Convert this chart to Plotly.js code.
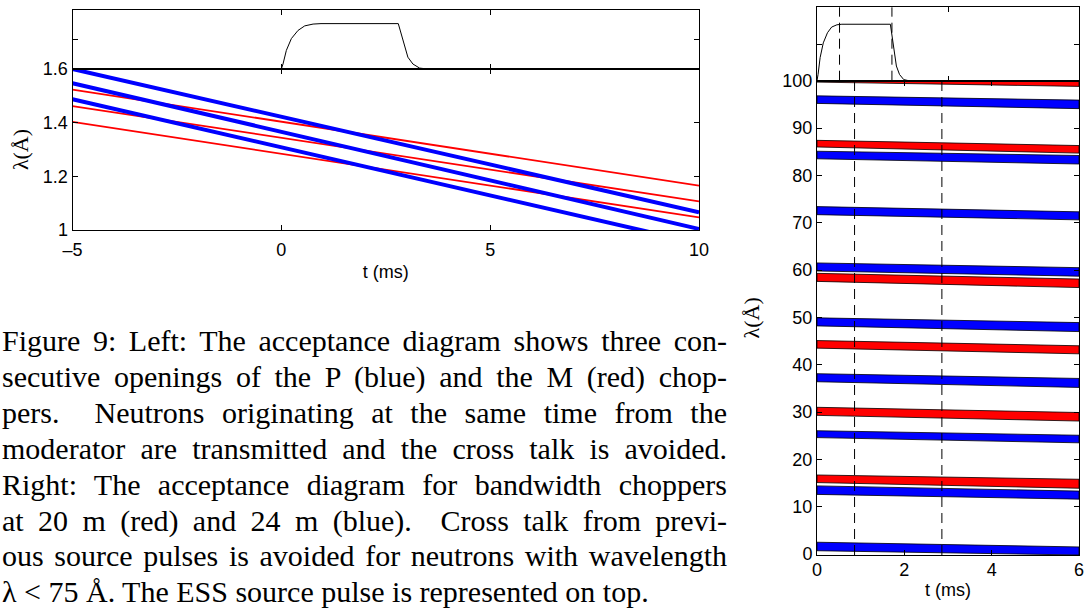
<!DOCTYPE html>
<html>
<head>
<meta charset="utf-8">
<script src="https://cdn.plot.ly/plotly-3.0.1.min.js"></script>
<style>
  html, body { margin: 0; padding: 0; background: #fff; }
  #wrap { position: relative; width: 1086px; height: 608px; overflow: hidden; }
  #chart { position: absolute; left: 0; top: 0; width: 1086px; height: 608px; }
  #caption { position: absolute; left: 2px; top: 323px; width: 725px;
             font-family: "Liberation Serif", "Times New Roman", serif; font-size: 30px;
             line-height: 35.9px; color: #000; }
  #caption div { text-align: justify; text-align-last: justify; white-space: nowrap; }
  #caption div.last { text-align-last: left; }
</style>
</head>
<body>
<div id="wrap">
  <div id="chart"></div>
  <div id="caption">
    <div>Figure 9: Left: The acceptance diagram shows three con-</div>
    <div>secutive openings of the P (blue) and the M (red) chop-</div>
    <div>pers.&nbsp; Neutrons originating at the same time from the</div>
    <div>moderator are transmitted and the cross talk is avoided.</div>
    <div>Right: The acceptance diagram for bandwidth choppers</div>
    <div>at 20 m (red) and 24 m (blue).&nbsp; Cross talk from previ-</div>
    <div>ous source pulses is avoided for neutrons with wavelength</div>
    <div class="last">λ &lt; 75 Å. The ESS source pulse is represented on top.</div>
  </div>
</div>
<script>
// ---------- Left panel data ----------
const leftTimeSpan = [-5, 10];
const blueLambdaStart = [1.600, 1.547, 1.487];
const blueLambdaEnd   = [1.066, 1.004, 0.950];
const redLambdaStart  = [1.523, 1.462, 1.403];
const redLambdaEnd    = [1.165, 1.107, 1.047];

// ---------- Source pulse (shared) ----------
const pulseT = [0, 0.04, 0.12, 0.24, 0.40, 0.56, 0.76, 0.95, 2.80, 2.86, 2.95, 3.03, 3.15, 3.31, 3.50, 10];
const pulseA = [0, 0.11, 0.41, 0.67, 0.85, 0.95, 0.99, 1.00, 1.00, 0.81, 0.48, 0.26, 0.11, 0.02, 0.00, 0];

// ---------- Right panel data ----------
const bandTimeSpan = [0, 6];
const bandColors      = ['red','blue','red','blue','blue','blue','red','blue','red','blue','red','blue','red','blue','blue'];
const bandTopStart    = [101.4, 96.8, 87.4, 85.1, 73.4, 61.5, 59.3, 49.9, 45.1, 38.1, 31.0, 26.05, 16.7, 14.4, 2.5];
const bandBottomStart = [ 99.7, 95.2, 86.0, 83.5, 71.7, 59.8, 57.6, 48.2, 43.5, 36.4, 29.3, 24.6, 15.1, 12.6, 0.7];
const bandTopEnd      = [100.3, 95.9, 86.3, 84.2, 72.3, 60.5, 58.1, 48.9, 44.0, 37.1, 29.9, 25.1, 15.8, 13.3, 1.5];
const bandBottomEnd   = [ 98.8, 94.1, 84.7, 82.4, 70.6, 58.7, 56.3, 47.0, 42.3, 35.2, 28.1, 23.5, 13.9, 11.6, -0.2];
const pulseMarkerTimes = [0.86, 2.86];

// ---------- Tick labels ----------
const leftXTicks = [-5, 0, 5, 10];
const leftXTickText = ['\u20135', '0', '5', '10'];
const leftYTicks = [1, 1.2, 1.4, 1.6];
const leftYTickText = ['1', '1.2', '1.4', '1.6'];
const rightXTicks = [0, 2, 4, 6];
const rightXTickText = ['0', '2', '4', '6'];
const rightYTicks = [0, 10, 20, 30, 40, 50, 60, 70, 80, 90, 100];
const rightYTickText = ['0','10','20','30','40','50','60','70','80','90','100'];
const pulseTopXTicks = [0, 5, 10];

const BLUE = '#0000ff', RED = '#ff0000';
const colorMap = {red: RED, blue: BLUE};

const traces = [];
for (let i = 0; i < redLambdaStart.length; i++) {
  traces.push({x: leftTimeSpan, y: [redLambdaStart[i], redLambdaEnd[i]], xaxis: 'x', yaxis: 'y',
    mode: 'lines', line: {color: RED, width: 1.8}, hoverinfo: 'skip', showlegend: false});
}
for (let i = 0; i < blueLambdaStart.length; i++) {
  traces.push({x: leftTimeSpan, y: [blueLambdaStart[i], blueLambdaEnd[i]], xaxis: 'x', yaxis: 'y',
    mode: 'lines', line: {color: BLUE, width: 4}, hoverinfo: 'skip', showlegend: false});
}
traces.push({x: pulseT, y: pulseA, xaxis: 'x2', yaxis: 'y2', mode: 'lines',
  line: {color: '#000', width: 1}, hoverinfo: 'skip', showlegend: false});
for (let i = 0; i < bandColors.length; i++) {
  traces.push({
    x: [bandTimeSpan[0], bandTimeSpan[1], bandTimeSpan[1], bandTimeSpan[0], bandTimeSpan[0]],
    y: [bandTopStart[i], bandTopEnd[i], bandBottomEnd[i], bandBottomStart[i], bandTopStart[i]],
    xaxis: 'x3', yaxis: 'y3', mode: 'lines', fill: 'toself', fillcolor: colorMap[bandColors[i]],
    line: {color: '#000', width: 0.8}, hoverinfo: 'skip', showlegend: false});
}
traces.push({x: pulseT, y: pulseA, xaxis: 'x4', yaxis: 'y4', mode: 'lines',
  line: {color: '#000', width: 1}, hoverinfo: 'skip', showlegend: false});

const shapes = [];
pulseMarkerTimes.forEach(t => {
  shapes.push({type: 'line', xref: 'x3', yref: 'y3 domain', x0: t, x1: t, y0: 0, y1: 1,
    line: {color: '#000', width: 1, dash: '10px,6px'}});
  shapes.push({type: 'line', xref: 'x4', yref: 'y4 domain', x0: t, x1: t, y0: 0, y1: 1,
    line: {color: '#000', width: 1, dash: '10px,6px'}});
});

const tickFont = {family: 'Liberation Sans, Arial, sans-serif', size: 18, color: '#000'};
const titleFont = {family: 'Liberation Serif, Times New Roman, serif', size: 22, color: '#000'};
const base = {showline: true, linecolor: '#000', linewidth: 1, mirror: 'ticks', ticks: 'inside',
  ticklen: 5, tickcolor: '#000', tickwidth: 1, showgrid: false, zeroline: false, tickfont: tickFont,
  fixedrange: true};

const W = 1086, H = 608;
const px = v => v / W;
const py = v => 1 - v / H;

const layout = {
  width: W, height: H, margin: {l: 0, r: 0, t: 0, b: 0},
  paper_bgcolor: '#fff', plot_bgcolor: 'rgba(0,0,0,0)', showlegend: false,
  xaxis: Object.assign({}, base, {domain: [px(72.5), px(699)], range: [-5, 10], anchor: 'y',
    tickmode: 'array', tickvals: leftXTicks, ticktext: leftXTickText, ticklabelstandoff: 3,
    title: {text: 't (ms)', font: tickFont, standoff: 6}}),
  yaxis: Object.assign({}, base, {domain: [py(230), py(69)], range: [1, 1.6], anchor: 'x',
    tickmode: 'array', tickvals: leftYTicks, ticktext: leftYTickText,
    title: {text: 'λ(Å)', font: titleFont, standoff: 8}}),
  xaxis2: Object.assign({}, base, {domain: [px(72.5), px(699)], range: [-5, 10], anchor: 'y2',
    tickmode: 'array', tickvals: leftXTicks, showticklabels: false}),
  yaxis2: Object.assign({}, base, {domain: [py(69), py(10)], range: [0, 1.3], anchor: 'x2',
    tickmode: 'array', tickvals: [0.65], showticklabels: false}),
  xaxis3: Object.assign({}, base, {domain: [px(817), px(1079)], range: [0, 6], anchor: 'y3',
    tickmode: 'array', tickvals: rightXTicks, ticktext: rightXTickText, ticklabelstandoff: -2,
    title: {text: 't (ms)', font: tickFont, standoff: 4}}),
  yaxis3: Object.assign({}, base, {domain: [py(555), py(80.7)], range: [-0.2, 100], anchor: 'x3',
    tickmode: 'array', tickvals: rightYTicks, ticktext: rightYTickText,
    title: {text: 'λ(Å)', font: titleFont, standoff: 16}}),
  xaxis4: Object.assign({}, base, {domain: [px(817), px(1079)], range: [0, 10], anchor: 'y4',
    tickmode: 'array', tickvals: pulseTopXTicks, showticklabels: false}),
  yaxis4: Object.assign({}, base, {domain: [py(80.7), py(7.3)], range: [0, 1.3], anchor: 'x4',
    tickmode: 'array', tickvals: [0.65], showticklabels: false}),
  shapes: shapes
};

Plotly.newPlot('chart', traces, layout, {staticPlot: true, displayModeBar: false});
</script>
</body>
</html>
